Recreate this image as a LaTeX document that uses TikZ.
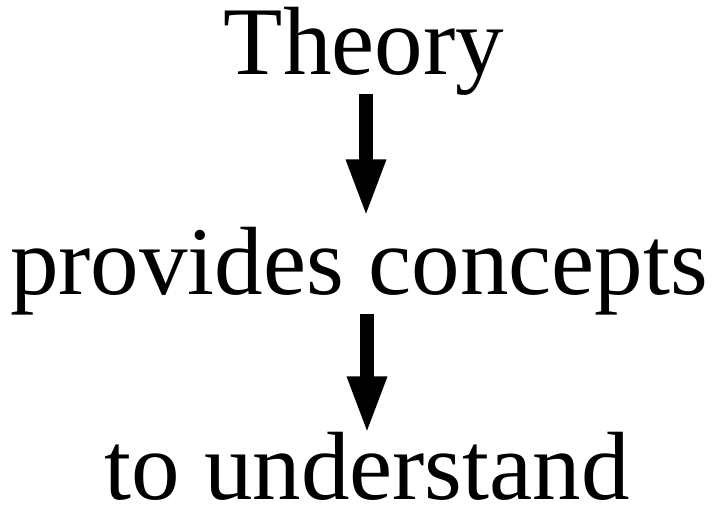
\documentclass[tikz,border=0pt]{standalone}
\usepackage{fontspec}
\setmainfont{Liberation Serif}
\usepackage{tikz}
\usetikzlibrary{positioning, arrows.meta}

\begin{document}
\begin{tikzpicture}[x=1pt,y=1pt,
  word/.style={inner sep=0pt, anchor=base, font=\fontsize{97pt}{100pt}\selectfont},
  bigarrow/.style={line width=14pt, -{Triangle[length=58pt, width=36pt]}}]
\useasboundingbox (0,0) rectangle (718,510);
\node[word] at (364,435) (theory)  {Theory};
\node[word] at (359,215) (concepts) {provides concepts};
\node[word] at (367,10) (understand) {to understand};
\draw[bigarrow] ([xshift=2pt,yshift=2pt]theory.south) -- ([xshift=7pt,yshift=10pt]concepts.north);
\draw[bigarrow] ([xshift=8pt,yshift=2pt]concepts.south) -- ([xshift=0pt,yshift=-2pt]understand.north);
\end{tikzpicture}
\end{document}
